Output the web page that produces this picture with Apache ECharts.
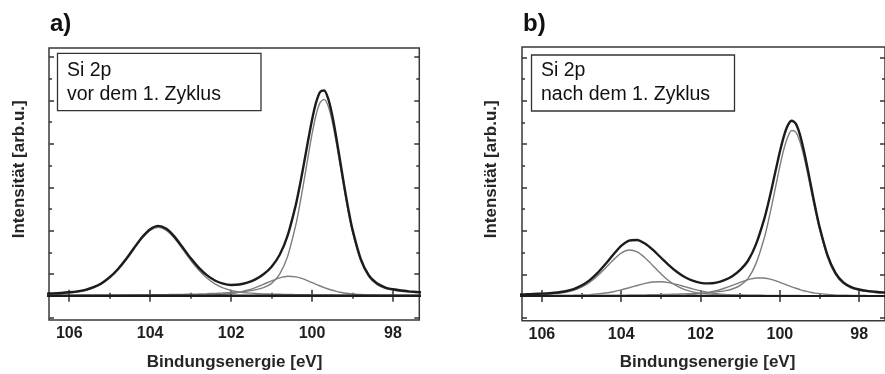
<!DOCTYPE html>
<html>
<head>
<meta charset="utf-8">
<script src="https://cdn.jsdelivr.net/npm/echarts@6/dist/echarts.min.js"></script>
<style>
  html, body { margin: 0; padding: 0; background: #fff; }
  #chart { width: 885px; height: 374px; }
</style>
</head>
<body>
<div id="chart"></div>
<script>
// Binding energy grid (eV)
const energy = [106.6, 106.4, 106.2, 106.0, 105.8, 105.6, 105.4, 105.2, 105.0, 104.8,
                104.6, 104.4, 104.2, 104.0, 103.8, 103.6, 103.4, 103.2, 103.0, 102.8,
                102.6, 102.4, 102.2, 102.0, 101.8, 101.6, 101.4, 101.2, 101.0, 100.8,
                100.6, 100.4, 100.3, 100.2, 100.1, 100.0, 99.9, 99.8, 99.7, 99.6,
                99.5, 99.4, 99.3, 99.2, 99.1, 99.0, 98.8,
                98.6, 98.4, 98.2, 98.0, 97.8, 97.6, 97.4, 97.2];

// Panel a) "vor dem 1. Zyklus"
const aEnvelope = [0.049, 0.055, 0.065, 0.080, 0.102, 0.138, 0.198, 0.290, 0.428, 0.613,
                   0.841, 1.100, 1.349, 1.535, 1.611, 1.542, 1.363, 1.119, 0.869, 0.649,
                   0.475, 0.352, 0.280, 0.250, 0.259, 0.302, 0.377, 0.495, 0.669, 0.945,
                   1.399, 2.101, 2.550, 3.050, 3.565, 4.056, 4.456, 4.700, 4.732, 4.538,
                   4.154, 3.641, 3.072, 2.504, 1.979, 1.525, 0.856,
                   0.475, 0.287, 0.196, 0.150, 0.121, 0.102, 0.087, 0.076];
const aSiO2 = [0.038, 0.044, 0.053, 0.067, 0.088, 0.123, 0.182, 0.273, 0.409, 0.593,
               0.820, 1.076, 1.324, 1.507, 1.580, 1.507, 1.324, 1.076, 0.820, 0.593,
               0.409, 0.273, 0.182, 0.123, 0.088, 0.067, 0.053, 0.044, 0.038, 0.034,
               0.030, 0.027, 0.025, 0.024, 0.023, 0.022, 0.020, 0.019, 0.018, 0.017,
               0.017, 0.016, 0.015, 0.015, 0.014, 0.014, 0.013,
               0.012, 0.011, 0.010, 0.009, 0.009, 0.008, 0.008, 0.007];
const aSuboxide = [0.002, 0.002, 0.002, 0.003, 0.003, 0.003, 0.003, 0.003, 0.004, 0.004,
                   0.004, 0.005, 0.005, 0.006, 0.007, 0.008, 0.009, 0.010, 0.012, 0.014,
                   0.018, 0.024, 0.034, 0.052, 0.082, 0.127, 0.188, 0.265, 0.345, 0.413,
                   0.449, 0.436, 0.413, 0.382, 0.345, 0.305, 0.264, 0.225, 0.188, 0.156,
                   0.127, 0.102, 0.082, 0.065, 0.052, 0.043, 0.028,
                   0.020, 0.016, 0.013, 0.011, 0.009, 0.008, 0.007, 0.007];
const aSi = [0.009, 0.009, 0.010, 0.010, 0.011, 0.012, 0.013, 0.014, 0.015, 0.016,
             0.017, 0.019, 0.020, 0.022, 0.024, 0.027, 0.030, 0.033, 0.037, 0.042,
             0.048, 0.055, 0.064, 0.075, 0.089, 0.108, 0.136, 0.186, 0.286, 0.498,
             0.920, 1.638, 2.112, 2.644, 3.197, 3.729, 4.172, 4.456, 4.526, 4.365,
             4.010, 3.523, 2.975, 2.424, 1.913, 1.468, 0.815,
             0.443, 0.260, 0.173, 0.130, 0.103, 0.086, 0.072, 0.062];

// Panel b) "nach dem 1. Zyklus"
const bEnvelope = [0.036, 0.040, 0.047, 0.054, 0.065, 0.082, 0.110, 0.159, 0.241, 0.361,
                   0.527, 0.732, 0.952, 1.154, 1.278, 1.292, 1.208, 1.061, 0.887, 0.712,
                   0.558, 0.437, 0.353, 0.304, 0.290, 0.309, 0.365, 0.457, 0.602, 0.818,
                   1.195, 1.753, 2.107, 2.502, 2.919, 3.324, 3.680, 3.932, 4.039, 3.970,
                   3.736, 3.370, 2.933, 2.465, 2.010, 1.595, 0.942,
                   0.535, 0.313, 0.205, 0.149, 0.118, 0.099, 0.083, 0.072];
const bSiO2 = [0.021, 0.024, 0.029, 0.034, 0.043, 0.058, 0.083, 0.128, 0.202, 0.311,
               0.461, 0.642, 0.829, 0.987, 1.059, 1.018, 0.882, 0.699, 0.513, 0.351,
               0.231, 0.147, 0.096, 0.065, 0.047, 0.036, 0.030, 0.025, 0.022, 0.019,
               0.017, 0.015, 0.015, 0.014, 0.013, 0.012, 0.012, 0.011, 0.011, 0.010,
               0.010, 0.009, 0.009, 0.008, 0.008, 0.008, 0.007,
               0.007, 0.006, 0.006, 0.005, 0.005, 0.005, 0.004, 0.004];
const bSiOx = [0.005, 0.006, 0.007, 0.008, 0.009, 0.010, 0.013, 0.016, 0.022, 0.032,
               0.046, 0.068, 0.099, 0.141, 0.190, 0.242, 0.290, 0.322, 0.329, 0.309,
               0.267, 0.216, 0.165, 0.119, 0.083, 0.056, 0.038, 0.026, 0.019, 0.014,
               0.011, 0.010, 0.009, 0.008, 0.008, 0.007, 0.007, 0.006, 0.006, 0.006,
               0.006, 0.005, 0.005, 0.005, 0.005, 0.004, 0.004,
               0.004, 0.003, 0.003, 0.003, 0.003, 0.003, 0.002, 0.002];
const bSuboxide = [0.002, 0.002, 0.002, 0.003, 0.003, 0.003, 0.003, 0.003, 0.004, 0.004,
                   0.005, 0.005, 0.006, 0.006, 0.007, 0.008, 0.009, 0.010, 0.012, 0.015,
                   0.018, 0.025, 0.036, 0.054, 0.082, 0.122, 0.178, 0.244, 0.315, 0.377,
                   0.415, 0.415, 0.399, 0.377, 0.348, 0.315, 0.280, 0.244, 0.210, 0.178,
                   0.149, 0.122, 0.101, 0.082, 0.066, 0.054, 0.036,
                   0.025, 0.018, 0.015, 0.012, 0.010, 0.009, 0.008, 0.007];
const bSi = [0.008, 0.008, 0.009, 0.009, 0.010, 0.011, 0.011, 0.012, 0.013, 0.014,
             0.015, 0.017, 0.018, 0.020, 0.022, 0.024, 0.027, 0.030, 0.033, 0.037,
             0.042, 0.049, 0.056, 0.066, 0.078, 0.095, 0.119, 0.162, 0.246, 0.408,
             0.752, 1.313, 1.684, 2.103, 2.550, 2.990, 3.381, 3.671, 3.812, 3.776,
             3.571, 3.234, 2.818, 2.370, 1.931, 1.529, 0.895,
             0.499, 0.286, 0.181, 0.129, 0.100, 0.082, 0.069, 0.059];

// Background (baseline)
const bgEnergy = [106.6, 97.2];
const bgValue = [0, 0];

// Axis ticks
const xMajorTicks = [98, 100, 102, 104, 106];
const xMinorTicks = [99, 101, 103, 105];
const yMajorTicks = [-0.5, 0.5, 1.5, 2.5, 3.5, 4.5, 5.5];
const yMinorTicks = [0, 1, 2, 3, 4, 5];

const panelLabels = ['a)', 'b)'];
const boxLine1 = ['Si 2p', 'Si 2p'];
const boxLine2 = ['vor dem 1. Zyklus', 'nach dem 1. Zyklus'];
const xTitle = 'Bindungsenergie [eV]';
const yTitle = 'Intensität [arb.u.]';

const FONT = "'Liberation Sans', Arial, sans-serif";
const INK = '#262626';

const grids = [
  { left: 49, top: 48, width: 370.3, height: 272, xmin: 97.35, xmax: 106.5, ymin: -0.558, ymax: 5.71 },
  { left: 522, top: 47, width: 369.5, height: 273.7, xmin: 97.35, xmax: 106.5, ymin: -0.569, ymax: 5.737 }
];

const tickStyle = { color: '#333', width: 1.5 };
const xAxis = [], yAxis = [];
grids.forEach((g, gi) => {
  const xb = { gridIndex: gi, type: 'value', min: g.xmin, max: g.xmax, inverse: true,
               axisLine: { show: false }, splitLine: { show: false } };
  const yb = { gridIndex: gi, type: 'value', min: g.ymin, max: g.ymax,
               axisLine: { show: false }, splitLine: { show: false }, axisLabel: { show: false } };
  xAxis.push(Object.assign({}, xb, { position: 'bottom',
    axisTick: { inside: true, length: 6, customValues: xMajorTicks, lineStyle: tickStyle },
    axisLabel: { customValues: xMajorTicks, margin: 6, fontSize: 16, fontWeight: 'bold', fontFamily: FONT, color: '#1e1e1e' } }));
  xAxis.push(Object.assign({}, xb, { position: 'bottom',
    axisTick: { inside: true, length: 3, customValues: xMinorTicks, lineStyle: tickStyle },
    axisLabel: { show: false } }));
  xAxis.push(Object.assign({}, xb, { position: 'top',
    axisTick: { inside: true, length: 6, customValues: xMajorTicks, lineStyle: tickStyle },
    axisLabel: { show: false } }));
  xAxis.push(Object.assign({}, xb, { position: 'top',
    axisTick: { inside: true, length: 3, customValues: xMinorTicks, lineStyle: tickStyle },
    axisLabel: { show: false } }));
  yAxis.push(Object.assign({}, yb, { position: 'left',
    axisTick: { inside: true, length: 5, customValues: yMajorTicks, lineStyle: tickStyle } }));
  yAxis.push(Object.assign({}, yb, { position: 'left',
    axisTick: { inside: true, length: 3, customValues: yMinorTicks, lineStyle: tickStyle } }));
  yAxis.push(Object.assign({}, yb, { position: 'right',
    axisTick: { inside: true, length: 5, customValues: yMajorTicks, lineStyle: tickStyle } }));
  yAxis.push(Object.assign({}, yb, { position: 'right',
    axisTick: { inside: true, length: 3, customValues: yMinorTicks, lineStyle: tickStyle } }));
});

function pairs(xs, ys) { return xs.map((x, i) => [x, ys[i]]); }
function line(gi, xs, ys, color, width, z) {
  return {
    type: 'line', xAxisIndex: gi * 4, yAxisIndex: gi * 4, data: pairs(xs, ys),
    showSymbol: false, symbol: 'none', smooth: 0.25, clip: true, z: z,
    lineStyle: { color: color, width: width }, silent: true
  };
}

const COMP = '#7d7d7d';
const ENV = '#1c1c1c';
const series = [
  line(0, energy, aSiO2, COMP, 1.4, 2),
  line(0, energy, aSuboxide, COMP, 1.4, 2),
  line(0, energy, aSi, COMP, 1.4, 2),
  line(0, bgEnergy, bgValue, ENV, 2.4, 3),
  line(0, energy, aEnvelope, ENV, 2.4, 4),
  line(1, energy, bSiO2, COMP, 1.4, 2),
  line(1, energy, bSiOx, COMP, 1.4, 2),
  line(1, energy, bSuboxide, COMP, 1.4, 2),
  line(1, energy, bSi, COMP, 1.4, 2),
  line(1, bgEnergy, bgValue, ENV, 2.2, 3),
  line(1, energy, bEnvelope, ENV, 2.4, 4)
];

const graphic = [
  // panel labels
  { type: 'text', x: 50, y: 24, style: { text: panelLabels[0], font: 'bold 24px ' + FONT, fill: '#111', align: 'left', verticalAlign: 'middle' } },
  { type: 'text', x: 523, y: 24, style: { text: panelLabels[1], font: 'bold 24px ' + FONT, fill: '#111', align: 'left', verticalAlign: 'middle' } },
  // boxes
  { type: 'rect', shape: { x: 57.5, y: 53.3, width: 203.5, height: 57.4 }, style: { fill: '#fff', stroke: '#333', lineWidth: 1.3 }, z: 10 },
  { type: 'rect', shape: { x: 531.5, y: 55, width: 203, height: 56 }, style: { fill: '#fff', stroke: '#333', lineWidth: 1.3 }, z: 10 },
  { type: 'text', x: 67, y: 71, z: 11, style: { text: boxLine1[0], font: '19.5px ' + FONT, fill: '#111', align: 'left', verticalAlign: 'middle' } },
  { type: 'text', x: 67, y: 95, z: 11, style: { text: boxLine2[0], font: '19.5px ' + FONT, fill: '#111', align: 'left', verticalAlign: 'middle' } },
  { type: 'text', x: 541, y: 71, z: 11, style: { text: boxLine1[1], font: '19.5px ' + FONT, fill: '#111', align: 'left', verticalAlign: 'middle' } },
  { type: 'text', x: 541, y: 95, z: 11, style: { text: boxLine2[1], font: '19.5px ' + FONT, fill: '#111', align: 'left', verticalAlign: 'middle' } },
  // axis titles
  { type: 'text', x: 234.5, y: 362, style: { text: xTitle, font: 'bold 17px ' + FONT, fill: INK, align: 'center', verticalAlign: 'middle' } },
  { type: 'text', x: 707.5, y: 362, style: { text: xTitle, font: 'bold 17px ' + FONT, fill: INK, align: 'center', verticalAlign: 'middle' } },
  { type: 'text', x: 19.5, y: 169.3, rotation: Math.PI / 2, style: { text: yTitle, font: 'bold 17px ' + FONT, fill: INK, align: 'center', verticalAlign: 'middle' } },
  { type: 'text', x: 491.5, y: 169.3, rotation: Math.PI / 2, style: { text: yTitle, font: 'bold 17px ' + FONT, fill: INK, align: 'center', verticalAlign: 'middle' } }
];

const chart = echarts.init(document.getElementById('chart'), null, { renderer: 'canvas' });
chart.setOption({
  animation: false,
  backgroundColor: '#fff',
  grid: grids.map(g => ({ left: g.left, top: g.top, width: g.width, height: g.height,
                          show: true, borderColor: '#3a3a3a', borderWidth: 1.5, backgroundColor: 'transparent' })),
  xAxis: xAxis,
  yAxis: yAxis,
  series: series,
  graphic: graphic
});
</script>
</body>
</html>
